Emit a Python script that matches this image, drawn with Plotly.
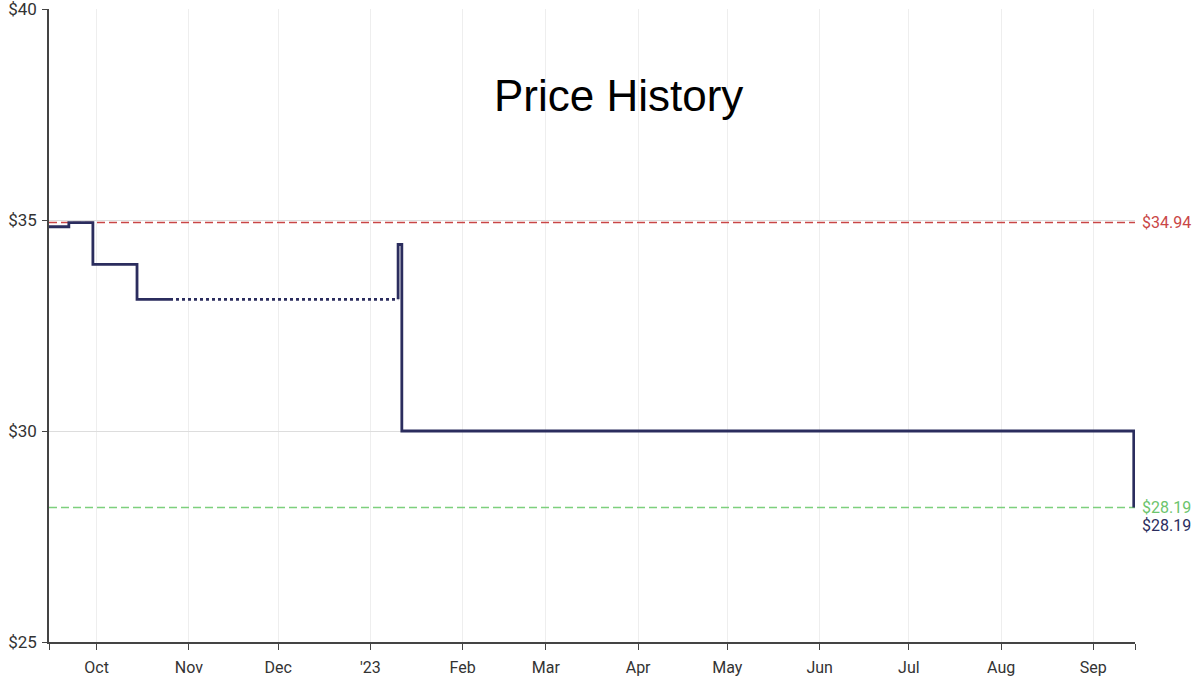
import plotly.graph_objects as go

# price steps
price_dates = ["2022-09-15", "2022-09-21 16:00", "2022-09-29 18:00", "2022-10-14 14:00", "2022-10-25 16:00"]
price_vals = [34.84, 34.94, 33.95, 33.12, 33.12]

gap_dates = ["2022-10-25 16:00", "2023-01-10 08:00"]
gap_vals = [33.12, 33.12]

later_dates = ["2023-01-10 08:00", "2023-01-11 14:00", "2023-09-14 12:00", "2023-09-14 14:00"]
later_vals = [34.42, 30.00, 30.00, 28.19]

highest = 34.94
lowest = 28.19
current = 28.19

month_ticks = ["2022-09-15", "2022-10-01", "2022-11-01", "2022-12-01", "2023-01-01", "2023-02-01",
               "2023-03-01", "2023-04-01", "2023-05-01", "2023-06-01", "2023-07-01",
               "2023-08-01", "2023-09-01", "2023-09-15"]
month_labels = ["", "Oct", "Nov", "Dec", "'23", "Feb", "Mar", "Apr", "May", "Jun", "Jul", "Aug", "Sep", ""]

navy = "#2b2d5e"
red = "#c94646"
green = "#7dd07d"

fig = go.Figure()

# reference lines
fig.add_trace(go.Scatter(x=[month_ticks[0], month_ticks[-1]], y=[highest, highest], mode="lines",
                         line=dict(color=red, width=1.5, dash="8px,4px"), hoverinfo="skip"))
fig.add_trace(go.Scatter(x=[month_ticks[0], month_ticks[-1]], y=[lowest, lowest], mode="lines",
                         line=dict(color=green, width=1.5, dash="8px,4px"), hoverinfo="skip"))

fig.add_trace(go.Scatter(x=price_dates, y=price_vals, mode="lines", line_shape="hv",
                         line=dict(color=navy, width=2.8)))
fig.add_trace(go.Scatter(x=gap_dates, y=gap_vals, mode="lines",
                         line=dict(color=navy, width=2.8, dash="dot")))
fig.add_trace(go.Scatter(x=[gap_dates[-1]] + later_dates, y=[gap_vals[-1]] + later_vals, mode="lines",
                         line_shape="hv", line=dict(color=navy, width=2.8)))

fig.add_annotation(x=1, xref="paper", y=highest, yref="y", text=f"${highest:.2f}", showarrow=False,
                   xanchor="left", xshift=5, font=dict(color=red, size=16, family="Roboto"))
fig.add_annotation(x=1, xref="paper", y=lowest, yref="y", text=f"${lowest:.2f}", showarrow=False,
                   xanchor="left", xshift=5, font=dict(color="#6cc46c", size=16, family="Roboto"))
fig.add_annotation(x=1, xref="paper", y=current, yref="y", text=f"${current:.2f}", showarrow=False,
                   xanchor="left", xshift=5, yshift=-18, font=dict(color=navy, size=16, family="Roboto"))

fig.add_annotation(x=0.524, xref="paper", y=0.863, yref="paper", yanchor="middle", text="Price History",
                   showarrow=False, font=dict(color="black", size=44, family="Liberation Sans, Arial"))

fig.update_layout(
    width=1200, height=681,
    margin=dict(l=49, r=65, t=9, b=39, autoexpand=False),
    paper_bgcolor="white", plot_bgcolor="white",
    showlegend=False,
    font=dict(family="Roboto", size=16, color="#333"),
    xaxis=dict(range=[month_ticks[0], month_ticks[-1]], tickvals=month_ticks, ticktext=month_labels,
               showgrid=True, gridcolor="#eeeeee", gridwidth=1, showline=True, linecolor="#444",
               linewidth=1.5, ticks="outside", ticklen=6, tickcolor="#444", zeroline=False,
               automargin=False, ticklabelstandoff=4),
    yaxis=dict(range=[25, 40], tickvals=[25, 30, 35, 40], ticktext=["$25", "$30", "$35", "$40"],
               showgrid=True, gridcolor="#dddddd", showline=True, linecolor="#444", linewidth=1.5,
               ticks="outside", ticklen=5, tickcolor="#444", zeroline=False, automargin=False,
               ticklabeloverflow="allow", tickfont=dict(size=17), ticklabelstandoff=2),
)

fig.write_html("out.html", config={"displayModeBar": False},
               post_script="document.body.style.margin='0';")
